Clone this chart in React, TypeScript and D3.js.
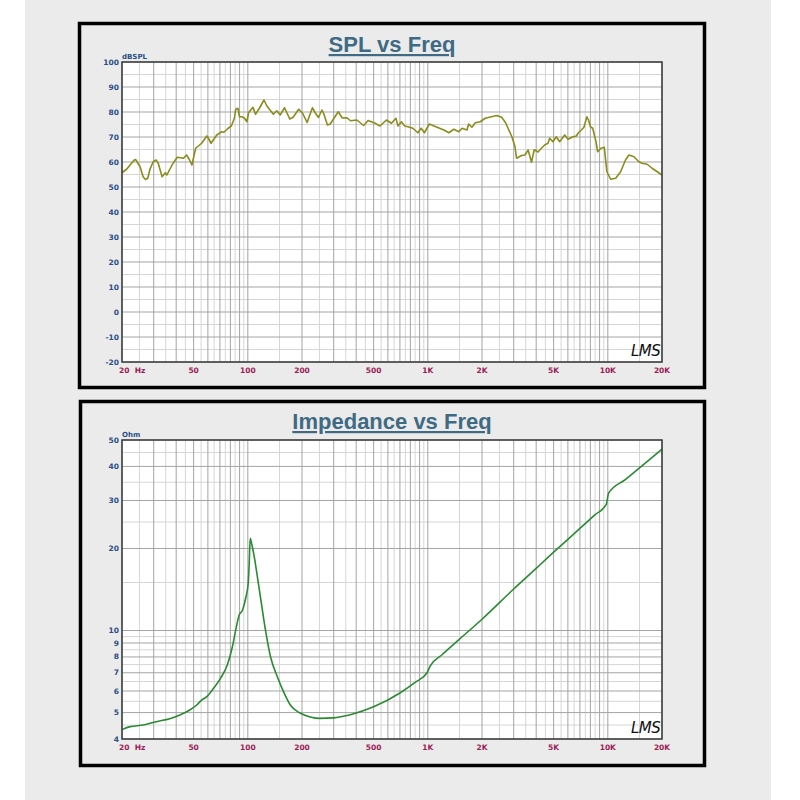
import * as d3 from 'd3';

// SPL response (Hz, dB)
const splFreq = [
  20, 21.2, 23.4, 23.8, 25.2, 26.2, 27, 27.8, 28.6, 29.8, 30.9, 31.8, 33.4, 34.8, 35.5, 38.4,
  40.6, 43.9, 45.7, 47.3, 48.9, 51.3, 55.4, 59.2, 60.4, 62.5, 67.2, 71.7, 73.6, 77.8, 81, 84.2,
  85.7, 88.1, 89.9, 92.8, 95.9, 98.9, 100.9, 106.8, 110.3, 116, 123, 127.6, 138.7, 144.9, 151.3,
  160, 171, 178.5, 191.7, 201.6, 213.5, 228.5, 236.7, 247, 258, 263.6, 277, 287, 318, 335, 355,
  372, 403, 440, 466, 509, 542, 589, 628, 665, 683, 713, 744, 776, 826, 880, 918, 957, 1019,
  1108, 1229, 1309, 1395, 1487, 1550, 1651, 1686, 1758, 1836, 1955, 2083, 2416, 2572, 2700,
  2931, 3051, 3113, 3316, 3463, 3611, 3766, 3900, 4096, 4274, 4459, 4652, 4750, 4955, 5175,
  5402, 5760, 6010, 6410, 6690, 6830, 7130, 7370, 7650, 7810, 8010, 8240, 8600, 8780, 9160,
  9560, 9880, 10380, 11060, 11780, 12540, 13100, 13970, 14880, 15510, 16530, 17620, 20000,
];
const splDb = [
  55.7, 57.1, 60.8, 61, 58.1, 54.1, 53, 53.5, 57.1, 60.1, 60.8, 59.5, 54.1, 55.7, 54.8, 59.5,
  61.9, 61.5, 62.8, 61, 58.8, 65.5, 67.5, 70.4, 69.5, 67.5, 70.8, 72.1, 71.9, 73.5, 74.4, 77.5,
  81.1, 81.5, 78.1, 78.1, 77.5, 76.1, 79.7, 81.9, 79.1, 81.5, 84.8, 82.4, 79.1, 80.5, 78.8,
  81.7, 77.2, 77.9, 81.1, 79.5, 75.8, 81.7, 79.7, 77.8, 80.8, 79.5, 74.8, 75.2, 80.1, 77.6, 77.7,
  76.5, 76.8, 74.6, 76.6, 75.5, 74.4, 76.8, 75.5, 77.5, 74.4, 76.1, 74.4, 74.1, 73.5, 71.7, 73.5, 71.7, 75.2,
  74.1, 72.8, 71.7, 73.1, 72.1, 73.5, 72.8, 75.2, 73.9, 75.7, 76.1, 77.5, 78.6, 77.9, 75.8,
  70.1, 66.1, 61.5, 62.6, 62.8, 64.8, 59.9, 64.9, 64, 65.5, 66.8, 67.5, 69.5, 68.1, 70.1,
  68.1, 70.8, 69.1, 70.1, 70.4, 71.5, 72.8, 73.9, 78.1, 76.8, 74.1, 73.5, 68.1, 64.1, 65.5,
  65.9, 56.1, 53.1, 53.5, 56.1, 60.8, 62.8, 62.1, 60.1, 59.5, 59.1, 57.5, 54.8,
];

// impedance (Hz, Ohm)
const impFreq = [
  20, 22.2, 26.3, 31, 36.8, 41.9, 47.6, 52, 55.4, 59.2, 64.5, 70.5, 76.9, 82.1, 85.7, 89.5,
  93.5, 97.7, 100.5, 101.8, 103.1, 105.4, 108.5, 113.1, 117.5, 125.3, 133.7, 145.9, 159.2,
  172.2, 195, 222, 251, 300, 400, 500, 700, 850, 990, 1030, 1200, 1500, 2000, 3000, 4000,
  5000, 6000, 7000, 8500, 9800, 10100, 12500, 15000, 17500, 20000,
];
const impOhm = [
  4.33, 4.44, 4.5, 4.63, 4.75, 4.9, 5.11, 5.33, 5.56, 5.72, 6.14, 6.68, 7.47, 8.72, 10.05, 11.4,
  11.9, 13.3, 14.9, 17.6, 21.8, 20.6, 18.7, 15.7, 13.3, 10.05, 8.01, 6.77, 5.89,
  5.33, 4.98, 4.82, 4.76, 4.78, 4.98, 5.25, 5.9, 6.45, 7.0, 7.4, 8.15, 9.3, 11.0, 14.2, 16.9,
  19.4, 21.6, 23.7, 26.6, 29, 31.9, 35.8, 39.5, 43, 46.3,
];

const freqTicks = [20, 50, 100, 200, 500, 1000, 2000, 5000, 10000, 20000];
const freqTickLabels = ['20  Hz', '50', '100', '200', '500', '1K', '2K', '5K', '10K', '20K'];
const splTicks = [100, 90, 80, 70, 60, 50, 40, 30, 20, 10, 0, -10, -20];
const impTicks = [50, 40, 30, 20, 10, 9, 8, 7, 6, 5, 4];

const PLOT_L = 122;
const PLOT_R = 662;
const TICK_BLUE = '#2a4f86';
const TICK_RED = '#9a1c56';
const TITLE = '#3f6a84';
const FONT = '"DejaVu Sans", Verdana, sans-serif';

// decade grid: k*10^n major, (k+0.5)*10^n minor
function logGrid(lo: number, hi: number) {
  const major: number[] = [];
  const minor: number[] = [];
  for (let d = 1; d <= 10000; d *= 10) {
    for (let k = 1; k <= 9; k++) {
      if (k * d >= lo - 1e-9 && k * d <= hi + 1e-9) major.push(k * d);
      if ((k + 0.5) * d > lo && (k + 0.5) * d < hi) minor.push((k + 0.5) * d);
    }
  }
  return { major, minor };
}

interface PanelProps {
  top: number;
  title: string;
  unit: string;
  y: d3.ScaleContinuousNumeric<number, number>;
  yMajor: number[];
  yMinor: number[];
  yTicks: number[];
  freq: number[];
  vals: number[];
  color: string;
  smooth: boolean;
  plotTop: number;
  plotBottom: number;
  frame: { x: number; y: number; w: number; h: number };
}

function Panel(p: PanelProps) {
  const x = d3.scaleLog().domain([20, 20000]).range([PLOT_L, PLOT_R]);
  const fg = logGrid(20, 20000);
  const line = d3
    .line<number>()
    .x((_, i) => x(p.freq[i]))
    .y((v) => p.y(v))
    .curve(p.smooth ? d3.curveMonotoneX : d3.curveLinear);

  return (
    <g>
      <rect x={p.frame.x} y={p.frame.y} width={p.frame.w} height={p.frame.h} fill="#ebebeb" stroke="#000" strokeWidth={3.5} />
      <text
        x={392}
        y={p.top + 30}
        textAnchor="middle"
        fontFamily='"Liberation Sans", Arial, sans-serif'
        fontWeight="bold"
        fontSize={22}
        fill={TITLE}
        style={{ textDecoration: 'underline' }}
      >
        {p.title}
      </text>
      <rect x={PLOT_L} y={p.plotTop} width={PLOT_R - PLOT_L} height={p.plotBottom - p.plotTop} fill="#fff" />
      {fg.minor.map((f) => (
        <line key={'fm' + f} x1={x(f)} x2={x(f)} y1={p.plotTop} y2={p.plotBottom} stroke="#d6d6d6" strokeWidth={1} />
      ))}
      {p.yMinor.map((v) => (
        <line key={'ym' + v} x1={PLOT_L} x2={PLOT_R} y1={p.y(v)} y2={p.y(v)} stroke="#d6d6d6" strokeWidth={1} />
      ))}
      {fg.major.map((f) => (
        <line key={'fM' + f} x1={x(f)} x2={x(f)} y1={p.plotTop} y2={p.plotBottom} stroke="#a4a4a4" strokeWidth={1} />
      ))}
      {p.yMajor.map((v) => (
        <line key={'yM' + v} x1={PLOT_L} x2={PLOT_R} y1={p.y(v)} y2={p.y(v)} stroke="#a4a4a4" strokeWidth={1} />
      ))}
      <path d={line(p.vals) ?? ''} fill="none" stroke={p.color} strokeWidth={1.6} strokeLinejoin="round" />
      <rect x={PLOT_L} y={p.plotTop} width={PLOT_R - PLOT_L} height={p.plotBottom - p.plotTop} fill="none" stroke="#3a3a3a" strokeWidth={1.5} />
      <text x={PLOT_L} y={p.plotTop - 3} fontFamily={FONT} fontWeight="bold" fontSize={7} fill={TICK_BLUE}>
        {p.unit}
      </text>
      {p.yTicks.map((v) => (
        <text key={'yt' + v} x={119} y={p.y(v) + 2.5} textAnchor="end" fontFamily={FONT} fontWeight="bold" fontSize={7.5} fill={TICK_BLUE}>
          {v}
        </text>
      ))}
      {freqTicks.map((f, i) => (
        <text
          key={'xt' + f}
          x={i === 0 ? x(f) - 3 : x(f)}
          y={p.plotBottom + 11}
          textAnchor={i === 0 ? 'start' : 'middle'}
          fontFamily={FONT}
          fontWeight="bold"
          fontSize={7.5}
          fill={TICK_RED}
          style={{ whiteSpace: 'pre' }}
        >
          {freqTickLabels[i]}
        </text>
      ))}
      <text
        x={631}
        y={p.plotBottom - 6}
        fontFamily='"DejaVu Sans", sans-serif'
        fontStyle="italic"
        fontSize={15}
        fill="#111"
        letterSpacing={-0.5}
      >
        LMS
      </text>
    </g>
  );
}

export default function App() {
  const splY = d3.scaleLinear().domain([-20, 100]).range([362, 62]);
  const impY = d3.scaleLog().domain([4, 50]).range([739, 440]);
  const splMajor = d3.range(-20, 101, 10);
  const splMinor = d3.range(-15, 100, 10);
  const ig = logGrid(4, 50);

  return (
    <svg width={800} height={800} style={{ position: 'absolute', left: 0, top: 0, display: 'block' }}>
      <rect x={0} y={0} width={800} height={800} fill="#fff" />
      <rect x={25} y={0} width={746} height={800} fill="#ebebeb" />
      <Panel
        top={22}
        title="SPL vs Freq"
        unit="dBSPL"
        y={splY}
        yMajor={splMajor}
        yMinor={splMinor}
        yTicks={splTicks}
        freq={splFreq}
        vals={splDb}
        color="#8a8c1c"
        smooth={false}
        plotTop={62}
        plotBottom={362}
        frame={{ x: 79.5, y: 23.5, w: 625, h: 364 }}
      />
      <Panel
        top={399}
        title="Impedance vs Freq"
        unit="Ohm"
        y={impY}
        yMajor={ig.major}
        yMinor={ig.minor}
        yTicks={impTicks}
        freq={impFreq}
        vals={impOhm}
        color="#2a8a32"
        smooth={true}
        plotTop={440}
        plotBottom={739}
        frame={{ x: 80.5, y: 401.5, w: 624, h: 364 }}
      />
    </svg>
  );
}
